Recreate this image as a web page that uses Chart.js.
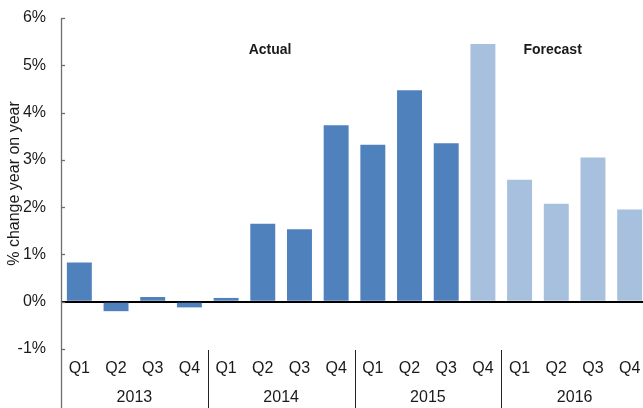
<!DOCTYPE html>
<html>
<head>
<meta charset="utf-8">
<script src="https://cdn.jsdelivr.net/npm/chart.js@4/dist/chart.umd.min.js"></script>
<style>
  html, body { margin: 0; padding: 0; overflow: hidden; background: #fff; }
  canvas { display: block; }
</style>
</head>
<body>
<canvas id="growth" width="648" height="408"></canvas>
<script>
// Quarterly growth, % change year on year
const quarters = ['Q1','Q2','Q3','Q4','Q1','Q2','Q3','Q4','Q1','Q2','Q3','Q4','Q1','Q2','Q3','Q4'];
const years = ['2013', '2014', '2015', '2016'];
const actual   = [0.83, -0.20, 0.10, -0.12, 0.08, 1.65, 1.53, 3.73, 3.32, 4.47, 3.35, null, null, null, null, null];
const forecast = [null, null, null, null, null, null, null, null, null, null, null, 5.45, 2.58, 2.07, 3.05, 1.95];
const yTickValues = [-1, 0, 1, 2, 3, 4, 5, 6];

const FONT = '"Liberation Sans", Arial, sans-serif';
const TEXT = '#1a1a1a';

// Axis line, inner tick marks, year groups and annotations
const decorations = {
  id: 'decorations',
  afterDraw(chart) {
    const { ctx, chartArea, scales } = chart;
    const x = scales.x, y = scales.y;
    const H = chart.height;
    ctx.save();

    // vertical axis line running down through the category labels
    ctx.strokeStyle = '#6e6e6e';
    ctx.lineWidth = 1.3;
    ctx.beginPath();
    ctx.moveTo(chartArea.left + 0.5, y.getPixelForValue(6));
    ctx.lineTo(chartArea.left + 0.5, H);
    ctx.stroke();

    // tick marks pointing into the plot
    yTickValues.forEach(v => {
      const py = Math.round(y.getPixelForValue(v)) + 0.5;
      ctx.beginPath();
      ctx.moveTo(chartArea.left, py);
      ctx.lineTo(chartArea.left + 4, py);
      ctx.stroke();
    });

    // separators between year groups
    ctx.strokeStyle = '#222';
    ctx.lineWidth = 1;
    for (let k = 1; k < years.length; k++) {
      const sx = Math.round((x.getPixelForValue(4 * k - 1) + x.getPixelForValue(4 * k)) / 2) + 0.5;
      ctx.beginPath();
      ctx.moveTo(sx, chartArea.bottom + 1);
      ctx.lineTo(sx, H);
      ctx.stroke();
    }

    // year labels
    ctx.fillStyle = TEXT;
    ctx.font = '16px ' + FONT;
    ctx.textAlign = 'center';
    ctx.textBaseline = 'middle';
    years.forEach((yr, k) => {
      const cx = (x.getPixelForValue(4 * k) + x.getPixelForValue(4 * k + 3)) / 2;
      ctx.fillText(yr, cx, 398);
    });

    // y axis title
    ctx.save();
    ctx.translate(15, (chartArea.top + chartArea.bottom) / 2);
    ctx.rotate(-Math.PI / 2);
    ctx.fillText('% change year on year', 0, 0);
    ctx.restore();

    // period annotations
    ctx.font = 'bold 14px ' + FONT;
    ctx.fillText('Actual', x.getPixelForValue(5.2), y.getPixelForValue(5.32));
    ctx.fillText('Forecast', x.getPixelForValue(12.9), y.getPixelForValue(5.32));

    ctx.restore();
  }
};

new Chart(document.getElementById('growth'), {
  type: 'bar',
  data: {
    labels: quarters,
    datasets: [
      {
        label: 'Actual',
        data: actual,
        backgroundColor: '#4F81BD',
        grouped: false,
        barPercentage: 0.68,
        categoryPercentage: 1
      },
      {
        label: 'Forecast',
        data: forecast,
        backgroundColor: '#A7C0DE',
        grouped: false,
        barPercentage: 0.68,
        categoryPercentage: 1
      }
    ]
  },
  options: {
    responsive: false,
    animation: false,
    layout: { padding: { top: 18, left: 0, right: 0, bottom: 0 } },
    plugins: { legend: { display: false }, tooltip: { enabled: false } },
    scales: {
      x: {
        offset: true,
        grid: { display: false },
        border: { display: false },
        ticks: { color: TEXT, font: { family: FONT, size: 16 }, padding: 2, maxRotation: 0, autoSkip: false },
        afterFit(scale) { scale.height = 59; }
      },
      y: {
        min: -1,
        max: 6,
        afterBuildTicks(scale) { scale.ticks = yTickValues.map(v => ({ value: v })); },
        ticks: {
          color: TEXT,
          font: { family: FONT, size: 16 },
          padding: 15,
          callback: v => v + '%'
        },
        grid: {
          drawTicks: false,
          color: ctx => ctx.tick && ctx.tick.value === 0 ? '#000' : 'rgba(0,0,0,0)',
          lineWidth: ctx => ctx.tick && ctx.tick.value === 0 ? 2 : 0
        },
        border: { display: false },
        afterFit(scale) {
          scale.width = 61;
          scale.paddingTop = 0;
          scale.paddingBottom = 0;
        }
      }
    }
  },
  plugins: [decorations]
});
</script>
</body>
</html>
